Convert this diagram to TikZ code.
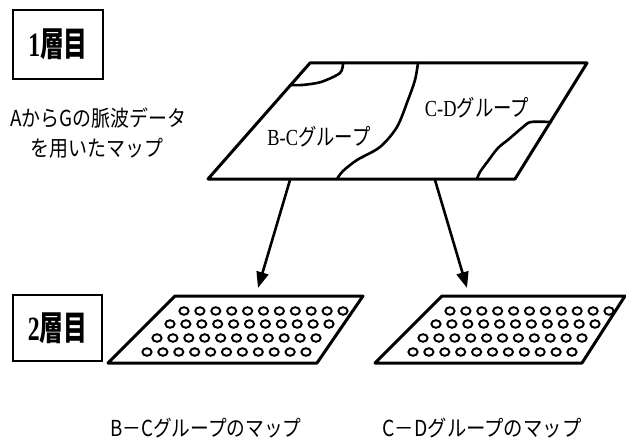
\documentclass[tikz,border=0pt]{standalone}
\usepackage{fontspec}
\usepackage{graphicx}
\setmainfont{Liberation Serif}
\newfontfamily\jp{Noto Sans CJK JP}
\usetikzlibrary{arrows.meta}
\newcommand{\narrowtxt}[2]{\scalebox{#1}[1]{#2}}
\begin{document}
\begin{tikzpicture}[x=1pt,y=-1pt,
  layerbox/.style={draw,line width=2.4pt,inner sep=0pt},
  mapline/.style={line width=3pt,line join=round},
  regline/.style={line width=2.6pt,line cap=round,line join=round},
  dot/.style={draw,line width=1.9pt},
  bigarrow/.style={line width=2.6pt,-{Triangle[length=16pt,width=12pt]}},
  lbl/.style={inner sep=0pt}]
\useasboundingbox (0,0) rectangle (626,441);

% layer boxes
\node[layerbox,minimum width=90pt,minimum height=69pt] (b1) at (58,44.5)
  {\fontsize{34}{34}\selectfont\narrowtxt{0.7}{\textbf{1}{\jp\bfseries 層目}}};
\node[layerbox,minimum width=89pt,minimum height=66pt] (b2) at (57.5,328)
  {\fontsize{34}{34}\selectfont\narrowtxt{0.7}{\textbf{2}{\jp\bfseries 層目}}};

% description
\node[lbl] (d1) at (98,118) {\fontsize{22}{22}\selectfont\jp\narrowtxt{0.86}{AからGの脈波データ}};
\node[lbl] (d2) at (97,148) {\fontsize{22}{22}\selectfont\jp\narrowtxt{0.86}{を用いたマップ}};

% top map
\coordinate (t1) at (310,63);
\coordinate (t2) at (587,63);
\coordinate (t3) at (515,179);
\coordinate (t4) at (208,179);
\draw[mapline] (t1) -- (t2) -- (t3) -- (t4) -- cycle;
\draw[regline] plot[smooth] coordinates {(418,63) (415,80) (408,100) (397,127) (380,147) (357,160) (343,171) (337,179)};
\draw[regline] plot[smooth] coordinates {(343,63) (340,73) (321,82) (302,85) (290,85)};
\draw[regline] plot[smooth] coordinates {(551,122) (531,122) (523,127) (509,139) (498,148) (488,161) (480,172) (477,179)};

\node[lbl] (g1) at (319,137) {\fontsize{23}{23}\selectfont\narrowtxt{0.8}{B-C\jp グループ}};
\node[lbl] (g2) at (477,108) {\fontsize{23}{23}\selectfont\narrowtxt{0.8}{C-D\jp グループ}};

% arrows
\coordinate (a1s) at (290,180);
\coordinate (a1e) at (258,288);
\coordinate (a2s) at (435,180);
\coordinate (a2e) at (467,288);
\draw[bigarrow] (a1s) -- (a1e);
\draw[bigarrow] (a2s) -- (a2e);

% bottom maps
\draw[mapline] (108,363) -- (175,296) -- (363,296) -- (317,363) -- cycle;
\draw[mapline] (375,363) -- (442,296) -- (625,296) -- (582,363) -- cycle;

\foreach \off in {0,266}{
  \foreach \y/\xs in {311/184, 324/170, 338/157, 352/147}{
    \foreach \i in {0,...,10}{
      \draw[dot] ({\xs+\off+15.9*\i},\y) ellipse [x radius=4.6, y radius=3.8];
    }
  }
}

% bottom labels
\node[lbl] (l1) at (206,428) {\fontsize{22}{22}\selectfont\jp\narrowtxt{0.85}{B－Cグループのマップ}};
\node[lbl] (l2) at (482,428) {\fontsize{22}{22}\selectfont\jp\narrowtxt{0.88}{C－Dグループのマップ}};
\end{tikzpicture}
\end{document}
